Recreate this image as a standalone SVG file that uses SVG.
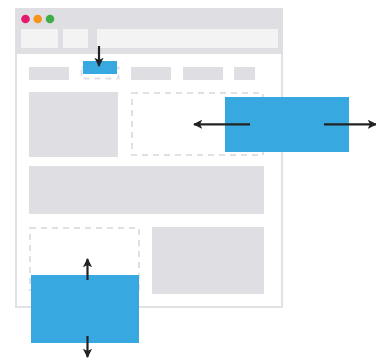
<svg xmlns="http://www.w3.org/2000/svg" width="376" height="358" viewBox="0 0 376 358">
  <style>
    .frame { fill: #ffffff; stroke: #e2e2e6; stroke-width: 2; }
    .bar { fill: #dfdfe3; }
    .field { fill: #f3f3f4; }
    .block { fill: #dfdfe3; }
    .slot { fill: none; stroke: #e0e0e4; stroke-width: 2; stroke-dasharray: 6 5; }
    .moved { fill: #38a8e0; }
    .arrow { stroke: #222222; stroke-width: 2.2; fill: none; marker-end: url(#head); }
  </style>
  <defs>
    <marker id="head" viewBox="0 0 10 10" refX="9" refY="5" markerWidth="4.2" markerHeight="4.2" orient="auto" markerUnits="strokeWidth">
      <path d="M0,0 L10,5 L0,10 L2.5,5 Z" fill="#222222"/>
    </marker>
  </defs>

  <!-- browser window -->
  <g id="window">
    <rect class="frame" x="16" y="9" width="266" height="298"/>
    <rect class="bar" x="15" y="8" width="268" height="46"/>
    <circle cx="25.5" cy="19" r="4.3" fill="#e6196e"/>
    <circle cx="37.7" cy="19" r="4.3" fill="#f7941d"/>
    <circle cx="50" cy="19" r="4.3" fill="#3fae49"/>
    <rect class="field" x="21" y="29" width="37" height="19"/>
    <rect class="field" x="63" y="29" width="25" height="19"/>
    <rect class="field" x="97" y="29" width="181" height="19"/>
  </g>

  <!-- navigation items -->
  <g id="nav">
    <rect class="block" x="29" y="67" width="40" height="13"/>
    <rect class="slot" x="81.5" y="67.5" width="37" height="11"/>
    <rect class="block" x="131" y="67" width="40" height="13"/>
    <rect class="block" x="183" y="67" width="40" height="13"/>
    <rect class="block" x="234" y="67" width="21" height="13"/>
  </g>

  <!-- content blocks -->
  <g id="row2">
    <rect class="block" x="29" y="92" width="89" height="65"/>
    <rect class="slot" x="132" y="93" width="131" height="62"/>
  </g>
  <g id="row3">
    <rect class="block" x="29" y="166" width="235" height="48"/>
  </g>
  <g id="row4">
    <rect class="slot" x="30" y="228" width="109" height="62"/>
    <rect class="block" x="152" y="227" width="112" height="67"/>
  </g>

  <!-- moved pieces -->
  <g id="nav-item">
    <rect class="moved" x="83" y="61" width="34" height="13"/>
  </g>
  <g id="side-panel">
    <rect class="moved" x="225" y="97" width="124" height="55"/>
  </g>
  <g id="bottom-panel">
    <rect class="moved" x="31" y="275" width="108" height="68"/>
  </g>

  <!-- direction arrows -->
  <g id="connectors">
    <line class="arrow" x1="99" y1="46" x2="99" y2="66"/>
    <line class="arrow" x1="250" y1="124.3" x2="194" y2="124.3"/>
    <line class="arrow" x1="324" y1="124.3" x2="376" y2="124.3"/>
    <line class="arrow" x1="87.5" y1="280" x2="87.5" y2="259"/>
    <line class="arrow" x1="87.5" y1="336" x2="87.5" y2="357"/>
  </g>
</svg>
